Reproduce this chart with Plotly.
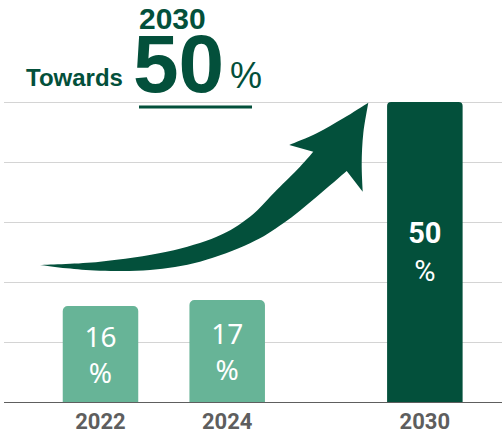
import plotly.graph_objects as go

# Share of target achieved by year (%)
years = ["2022", "2024", "2030"]
shares = [16, 17, 50]

# Horizontal slot of each bar on the x axis (2030 sits further right)
SLOT_X = [0.0, 1.0, 2.56]

LIGHT = "#67b497"
DARK = "#03503b"
GRID = "#d4d4d4"
AXIS_GRAY = "#5e5e5e"


def smooth(points):
    """Catmull-Rom spline through points, as SVG cubic segments (no initial M)."""
    segs = []
    pts = [points[0]] + list(points) + [points[-1]]
    for i in range(1, len(pts) - 2):
        p0, p1, p2, p3 = pts[i - 1], pts[i], pts[i + 1], pts[i + 2]
        c1 = (p1[0] + (p2[0] - p0[0]) / 6, p1[1] + (p2[1] - p0[1]) / 6)
        c2 = (p2[0] - (p3[0] - p1[0]) / 6, p2[1] - (p3[1] - p1[1]) / 6)
        segs.append(f"C{c1[0]:.4f},{c1[1]:.3f} {c2[0]:.4f},{c2[1]:.3f} {p2[0]:.4f},{p2[1]:.3f}")
    return " ".join(segs)


# Growth arrow outline, in axis units (x slot, y percent)
upper_edge = [(-0.4775, 22.83), (-0.0039, 23.38), (0.5225, 25.05), (0.9171, 27.55),
              (1.18, 30.88), (1.3907, 35.33), (1.5746, 39.22), (1.6796, 41.72)]
head_left = [(1.4901, 42.83), (1.7064, 44.78), (1.9163, 47.28), (2.1137, 49.88)]
head_right = [(2.1137, 49.88), (2.0742, 44.78), (2.0616, 39.78), (2.0695, 35.05)]
lower_edge = [(1.9432, 38.5), (1.7064, 34.22), (1.4428, 29.78), (1.1799, 26.45),
              (0.7853, 23.38), (0.3907, 22.0), (-0.0039, 21.88), (-0.2668, 22.28),
              (-0.4775, 22.83)]

arrow_path = (
    f"M{upper_edge[0][0]},{upper_edge[0][1]} " + smooth(upper_edge)
    + f" L{head_left[0][0]},{head_left[0][1]} " + smooth(head_left)
    + " " + smooth(head_right)
    + f" L{lower_edge[0][0]},{lower_edge[0][1]} " + smooth(lower_edge) + " Z"
)

fig = go.Figure()

# Light bars for the past years
fig.add_bar(
    x=SLOT_X[:2], y=shares[:2],
    text=[f"{v}<br>%" for v in shares[:2]],
    textposition="inside", insidetextanchor="middle", textangle=0,
    textfont=dict(family="Noto Sans", size=28, color="white"),
    marker=dict(color=LIGHT, cornerradius=5, line=dict(width=0)),
    width=0.596, hoverinfo="skip",
)
# Dark bar for the target year
fig.add_bar(
    x=SLOT_X[2:], y=shares[2:],
    text=[f"{v}<br><span style='font-weight:400'>%</span>" for v in shares[2:]],
    textposition="inside", insidetextanchor="middle", textangle=0,
    textfont=dict(family="Roboto", size=29, color="white", weight="bold"),
    marker=dict(color=DARK, cornerradius=4, line=dict(width=0)),
    width=0.596, hoverinfo="skip",
)

fig.add_shape(type="path", path=arrow_path, xref="x", yref="y",
              fillcolor=DARK, line=dict(width=0), layer="above")

# Underline beneath the headline figure
fig.add_shape(type="line", xref="paper", yref="paper",
              x0=0.2711, x1=0.498, y0=0.9736, y1=0.9736,
              line=dict(color=DARK, width=3))

head_font = "Liberation Sans"
fig.add_annotation(text="2030", xref="paper", yref="paper", x=0.339, y=1.265,
                   showarrow=False, xanchor="center", yanchor="middle",
                   font=dict(family=head_font, size=30, color=DARK, weight="bold"))
fig.add_annotation(text="50", xref="paper", yref="paper", x=0.351, y=1.118,
                   showarrow=False, xanchor="center", yanchor="middle",
                   font=dict(family=head_font, size=82, color=DARK, weight="bold"))
fig.add_annotation(text="%", xref="paper", yref="paper", x=0.486, y=1.079,
                   showarrow=False, xanchor="center", yanchor="middle",
                   font=dict(family=head_font, size=36, color=DARK))
fig.add_annotation(text="Towards", xref="paper", yref="paper", x=0.1406, y=1.072,
                   showarrow=False, xanchor="center", yanchor="middle",
                   font=dict(family=head_font, size=24, color=DARK, weight="bold"))

fig.update_layout(
    width=502, height=433,
    margin=dict(l=4, r=0, t=99, b=31),
    paper_bgcolor="white", plot_bgcolor="white",
    barmode="overlay", showlegend=False,
    xaxis=dict(range=[-0.7616, 3.1689], tickvals=SLOT_X, ticktext=years,
               showgrid=False, zeroline=False, showline=True,
               linecolor=AXIS_GRAY, linewidth=1, ticks="",
               tickfont=dict(family="Roboto", size=22, color=AXIS_GRAY, weight="bold"),
               fixedrange=True),
    yaxis=dict(range=[0, 50.5], tickvals=[10, 20, 30, 40, 50], showgrid=True,
               gridcolor=GRID, gridwidth=1, zeroline=False, showticklabels=False,
               showline=False, fixedrange=True),
)

fig.write_html("out.html")
